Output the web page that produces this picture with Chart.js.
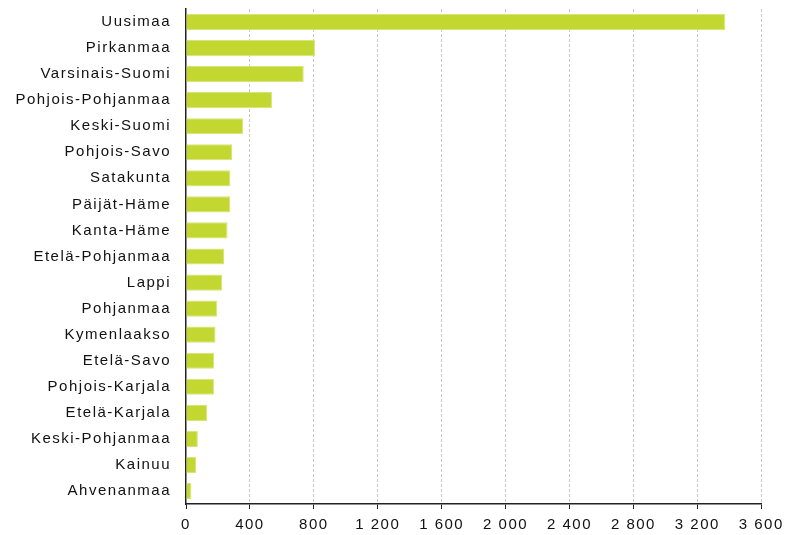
<!DOCTYPE html>
<html>
<head>
<meta charset="utf-8">
<script src="https://cdn.jsdelivr.net/npm/chart.js@4"></script>
<style>
html,body{margin:0;padding:0;background:#fff;}
canvas{display:block;}
</style>
</head>
<body>
<canvas id="c" width="787" height="535"></canvas>
<script>
const regions = ['Uusimaa','Pirkanmaa','Varsinais-Suomi','Pohjois-Pohjanmaa','Keski-Suomi','Pohjois-Savo','Satakunta','Päijät-Häme','Kanta-Häme','Etelä-Pohjanmaa','Lappi','Pohjanmaa','Kymenlaakso','Etelä-Savo','Pohjois-Karjala','Etelä-Karjala','Keski-Pohjanmaa','Kainuu','Ahvenanmaa'];
const values = [3375,807,737,538,358,288,278,278,260,238,227,196,185,176,175,133,74,63,34];
const xTickValues = [0,400,800,1200,1600,2000,2400,2800,3200,3600];
const xTickLabels = ['0','400','800','1 200','1 600','2 000','2 400','2 800','3 200','3 600'];

const spacingPlugin = {
  id: 'spacing',
  beforeDraw(chart){ chart.ctx.letterSpacing = '1.5px'; }
};

new Chart(document.getElementById('c'), {
  type: 'bar',
  data: {
    labels: regions,
    datasets: [{
      data: values,
      backgroundColor: '#c2d830',
      borderColor: '#d6e57a',
      borderWidth: 1,
      categoryPercentage: 1,
      barPercentage: 0.62
    }]
  },
  options: {
    indexAxis: 'y',
    responsive: false,
    animation: false,
    devicePixelRatio: 1,
    layout: { padding: { top: 9, right: 25, left: 0, bottom: 0 } },
    plugins: { legend: { display: false }, tooltip: { enabled: false } },
    scales: {
      x: {
        min: 0, max: 3600,
        afterBuildTicks(axis){ axis.ticks = xTickValues.map(v => ({ value: v })); },
        afterFit(axis){ axis.height = 31; },
        border: { display: true, color: '#222', width: 1.5, dash: [3, 2] },
        grid: {
          color: (ctx) => ctx.tick && ctx.tick.value === 0 ? 'rgba(0,0,0,0)' : '#c8c8c8',
          lineWidth: 1,
          drawTicks: true,
          tickLength: 5,
          tickColor: '#222',
          tickBorderDash: [],
          tickWidth: 1
        },
        ticks: {
          autoSkip: false,
          maxRotation: 0,
          padding: 7,
          color: '#111',
          font: { family: 'Liberation Sans', size: 15 },
          callback: (v) => xTickLabels[xTickValues.indexOf(v)]
        }
      },
      y: {
        afterFit(axis){ axis.width = 186; axis.paddingTop = 0; axis.paddingBottom = 0; },
        border: { display: true, color: '#222', width: 1.5 },
        grid: { display: false, drawTicks: false },
        ticks: {
          padding: 15,
          color: '#111',
          font: { family: 'Liberation Sans', size: 15 }
        }
      }
    }
  },
  plugins: [spacingPlugin]
});
</script>
</body>
</html>
